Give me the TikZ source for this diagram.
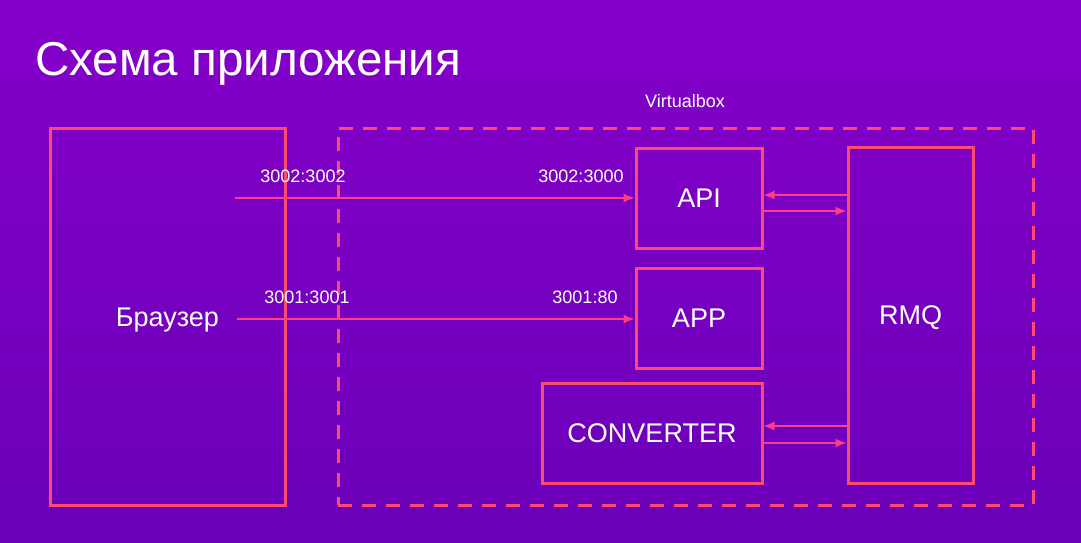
\documentclass[tikz,border=0pt]{standalone}
\usepackage{fontspec}
\setmainfont{Liberation Sans}
\usepackage{tikz}
\usetikzlibrary{calc,arrows.meta,positioning}

\definecolor{bgtop}{RGB}{133,0,201}
\definecolor{bgbot}{RGB}{106,0,184}
\definecolor{frame}{RGB}{255,74,112}
\definecolor{wire}{RGB}{255,60,138}

\begin{document}
\begin{tikzpicture}[x=1pt,y=-1pt,
    box/.style={draw=frame,line width=3pt,text=white,text height=19pt,text depth=0pt,font=\fontsize{27}{30}\selectfont},
    port/.style={text=white,font=\fontsize{18}{20}\selectfont,inner sep=0pt},
    arr/.style={draw=wire,line width=1.1pt,-{Latex[length=11pt,width=9pt]}}]
  % background
  \shade[top color=bgtop,bottom color=bgbot] (0,0) rectangle (1081,542);
  \useasboundingbox (0,0) rectangle (1081,542);
  % title
  \node[anchor=base west,text=white,inner sep=0pt,font=\fontsize{47.5}{52}\selectfont] (title) at (35,75) {Схема приложения};
  % boxes
  \node[box,minimum width=235pt,minimum height=377pt] (browser) at (167.5,316.5) {Браузер};
  \node[draw=frame,line width=3pt,dash pattern=on 14pt off 10pt,minimum width=695pt,minimum height=377pt] (vbox) at (685.5,316.5) {};
  \node[text=white,font=\fontsize{18}{20}\selectfont] (vlabel) at (685,101) {Virtualbox};
  \node[box,minimum width=126pt,minimum height=100pt] (api) at (699,198) {API};
  \node[box,minimum width=126pt,minimum height=100pt] (app) at (699,318) {APP};
  \node[box,minimum width=220pt,minimum height=100pt] (conv) at (652,433) {CONVERTER};
  \node[box,minimum width=125pt,minimum height=336pt] (rmq) at (910.5,315) {RMQ};
  % ports
  \coordinate (p1) at (235,198);
  \coordinate (p2) at (237,319);
  \draw[arr] (p1) -- (api.west |- p1);
  \draw[arr] (p2) -- (app.west |- p2);
  \node[port] (l1) at (303,176) {3002:3002};
  \node[port] (r1) at (581,176) {3002:3000};
  \node[port] (l2) at (307,297) {3001:3001};
  \node[port] (r2) at (585,297) {3001:80};
  % queue links
  \draw[arr] (rmq.west |- 0,195) -- (api.east |- 0,195);
  \draw[arr] (api.east |- 0,211) -- (rmq.west |- 0,211);
  \draw[arr] (rmq.west |- 0,426) -- (conv.east |- 0,426);
  \draw[arr] (conv.east |- 0,443) -- (rmq.west |- 0,443);
\end{tikzpicture}
\end{document}
